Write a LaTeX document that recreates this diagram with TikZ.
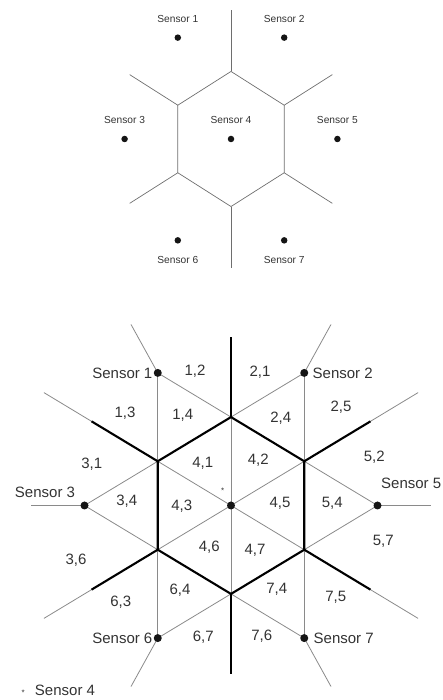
\documentclass[tikz,border=0pt]{standalone}
\usepackage{fontspec}
\setmainfont{Liberation Sans}
\usetikzlibrary{positioning,backgrounds}
\definecolor{Ink}{HTML}{333333}
\definecolor{Wire}{HTML}{8A8A8A}
\definecolor{Cell}{HTML}{151515}

\tikzset{
  sensordot/.style={circle,fill=Cell,inner sep=0pt,minimum size=#1},
  sensordot/.default=8pt,
  bigtag/.style={font=\fontsize{15}{17}\selectfont,text=Ink,inner sep=1pt},
  smalltag/.style={font=\fontsize{10.2}{12}\selectfont,text=Ink,inner sep=1pt},
  startag/.style={font=\fontsize{8}{9}\selectfont,text=Ink,inner sep=0pt},
  thinwire/.style={Wire,line width=0.8pt},
  cellwire/.style={Wire!80!black,line width=0.7pt,line join=round},
  voronoi/.style={black,line width=2.1pt,line join=round},
}

\begin{document}
\begin{tikzpicture}[x=1pt,y=1pt]
\useasboundingbox (0,0) rectangle (443,700);

% upper picture: the cells alone
\begin{scope}[shift={(231,561)},yscale=1.1]
  \foreach \a in {30,90,...,330} {
    \coordinate (u\a) at (\a:61.4);
    \coordinate (uo\a) at (\a:117);
  }
  \draw[cellwire] (u30)--(u90)--(u150)--(u210)--(u270)--(u330)--cycle;
  \foreach \a in {30,90,...,330}
    \draw[cellwire] (u\a)--(uo\a);
  \foreach \n/\a in {1/120,2/60,3/180,5/0,6/240,7/300}
    \node[sensordot=6.5pt] (t\n) at (\a:106.4) {};
  \node[sensordot=6.5pt] (t4) at (0,0) {};
\end{scope}
\foreach \n in {1,2,3,4,5}
  \node[smalltag,above=10.5pt of t\n] (m\n) {Sensor \n};
\foreach \n in {6,7}
  \node[smalltag,below=11pt of t\n] (m\n) {Sensor \n};

% lower picture: cells over the triangulation
\begin{scope}[shift={(231,194.5)},yscale=1.045]
  \foreach \a in {30,90,...,330} {
    \coordinate (h\a) at (\a:84.6);
    \coordinate (k\a) at (\a:161);
    \coordinate (e\a) at (\a:216);
  }
  \node[sensordot] (s4) at (0,0) {};
  \foreach \n/\a in {1/120,2/60,3/180,5/0,6/240,7/300} {
    \node[sensordot] (s\n) at (\a:146.5) {};
    \coordinate (r\n) at (\a:200);
  }
  \begin{scope}[on background layer]
    % thin lines
    \draw[thinwire] (e30)--(e210);
    \draw[thinwire] (e150)--(e330);
    \draw[thinwire] (k90)--(k270);
    \foreach \p/\q in {1/6,2/7,1/5,2/3,3/7,5/6}
      \draw[thinwire] (s\p.center)--(s\q.center);
    \foreach \n in {1,2,3,5,6,7}
      \draw[thinwire] (s\n.center)--(r\n);
    % thick cells
    \draw[voronoi] (h30)--(h90)--(h150)--(h210)--(h270)--(h330)--cycle;
    \foreach \a in {30,90,...,330}
      \draw[voronoi] (h\a)--(k\a);
  \end{scope}
\end{scope}

\node[bigtag,left=0pt of s1] (n1) {Sensor 1};
\node[bigtag,right=3pt of s2] (n2) {Sensor 2};
\node[bigtag] (n3) at (45,207.3) {Sensor 3};
\node[bigtag,anchor=west] (n5) at (380,216.7) {Sensor 5};
\node[bigtag,left=0pt of s6] (n6) {Sensor 6};
\node[bigtag,right=4pt of s7] (n7) {Sensor 7};

\foreach \x/\y/\t in {195/328.3/{1,2},260/327.3/{2,1},125/286.7/{1,3},
    182.7/285/{1,4},280.7/281.7/{2,4},341/292.7/{2,5},91.7/236/{3,1},
    202.7/236.7/{4,1},258.3/240/{4,2},374.3/242.7/{5,2},126.7/199/{3,4},
    181.7/193.3/{4,3},280/196.7/{4,5},332.3/197/{5,4},76/139.3/{3,6},
    209.3/152.7/{4,6},255/150/{4,7},383.3/158.3/{5,7},120.7/97.7/{6,3},
    180/110/{6,4},276.7/110.7/{7,4},335.7/102.7/{7,5},203.3/62.3/{6,7},
    261.7/63.3/{7,6}}
  \node[bigtag] at (\x,\y) {\t};

% marker and key
\node[startag] (mk) at (222.7,209) {*};
\node[startag] (ks) at (23.3,7) {*};
\node[bigtag] (kt) at (65,9.3) {Sensor 4};
\end{tikzpicture}
\end{document}
